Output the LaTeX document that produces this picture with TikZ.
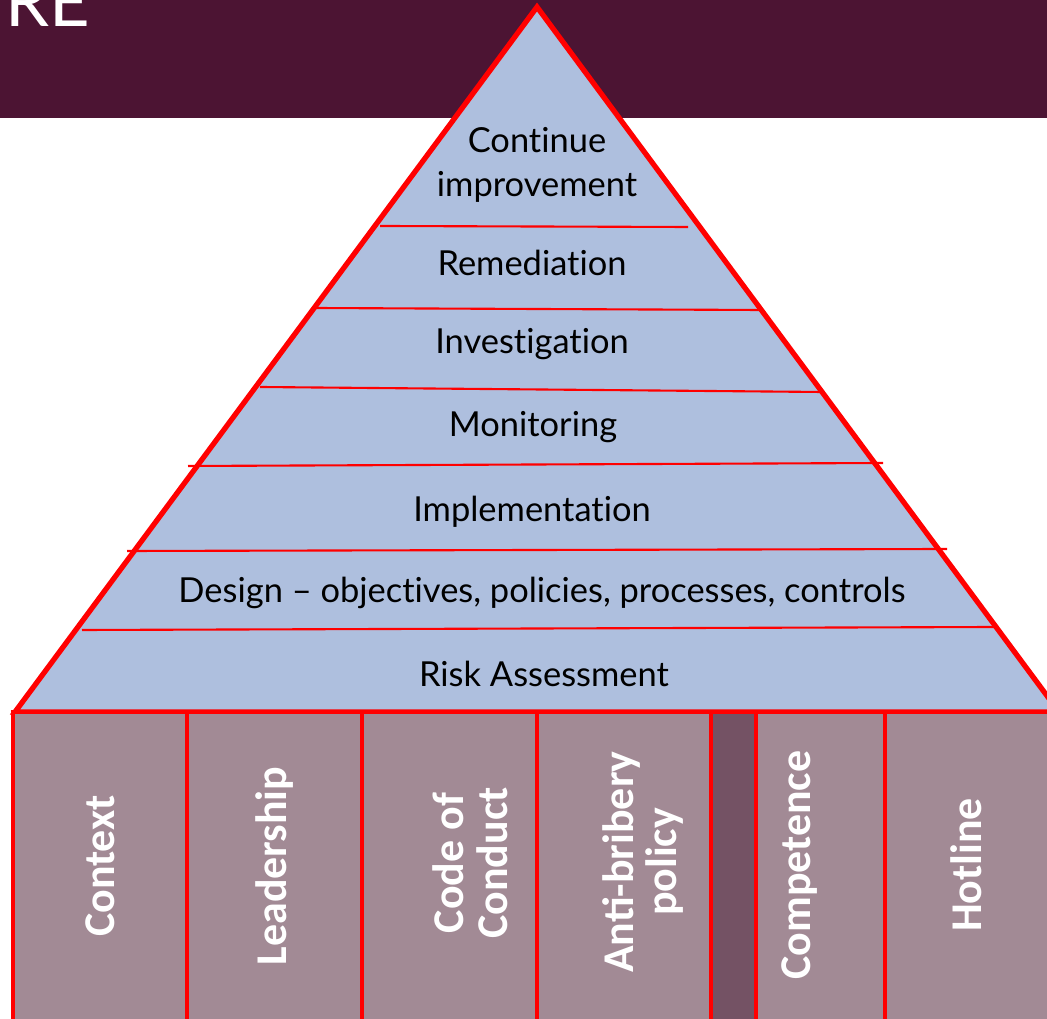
\documentclass[tikz,border=0pt]{standalone}
\usepackage{fontspec}
\setmainfont{Lato}[Ligatures=NoCommon]
\newfontfamily\pillarfont{Carlito}
\usepackage{tikz}
\usetikzlibrary{positioning}
\definecolor{banner}{RGB}{76,20,51}
\definecolor{pyrfill}{RGB}{174,191,222}
\definecolor{pillarfill}{RGB}{162,138,149}
\definecolor{darkstrip}{RGB}{116,82,100}
\definecolor{darkred}{RGB}{160,16,28}

\begin{document}
\begin{tikzpicture}[x=0.1mm,y=-0.1mm]
\tikzstyle{layer} = [anchor=base,inner sep=0,font=\fontsize{9.8}{12.5}\selectfont];
\tikzstyle{divider} = [draw=red,line width=0.6pt];
\tikzstyle{pillar} = [draw=red,line width=1.2pt,fill=pillarfill];
\tikzstyle{pillartext} = [rotate=90,text=white,align=center,font=\pillarfont\bfseries\fontsize{12.5}{12.5}\selectfont];

\useasboundingbox (0,0) rectangle (1047,1019);
\fill[banner] (0,0) rectangle (1047,118);
\node[anchor=base west,inner sep=0,text=white,font=\fontsize{20}{20}\selectfont] (title) at (5,27) {RE};

% pyramid
\coordinate (apex) at (537,7);
\coordinate (bl) at (15,712);
\coordinate (br) at (1059,712);
\draw[red,line width=1.5pt,fill=pyrfill] (bl) -- (apex) -- (br) -- cycle;

\draw[divider] (380,226) -- (688,227);
\draw[divider] (313,308) -- (760,310);
\draw[divider] (260,387) -- (822,392);
\draw[divider] (188,466) -- (883,463);
\draw[divider] (127,551) -- (947,549);
\draw[divider] (82,630) -- (995,627);

\node[layer] (ci1) at (537,153) {Continue};
\node[layer] (ci2) at (537,197) {improvement};
\node[layer] (rem) at (532,276) {Remediation};
\node[layer] (inv) at (532,354) {Investigation};
\node[layer] (mon) at (533,437) {Monitoring};
\node[layer] (imp) at (532,522) {Implementation};
\node[layer] (des) at (542,603) {Design -- objectives, policies, processes, controls};
\node[layer] (risk) at (544,687) {Risk Assessment};

% pillars
\draw[pillar] (13,712) rectangle (187,1030);
\draw[pillar] (187,712) rectangle (362,1030);
\draw[pillar] (362,712) rectangle (537,1030);
\draw[pillar] (537,712) rectangle (711,1030);
\draw[pillar,fill=darkstrip] (711,712) rectangle (756,1030);
\draw[darkred,line width=1.2pt] (756,716) -- (756,1030);
\draw[pillar] (756,712) rectangle (885,1030);
\draw[pillar] (885,712) rectangle (1060,1030);

\node[pillartext] (ctx) at (100,866) {Context};
\node[pillartext] (lead) at (275,866) {Leadership};
\node[pillartext] (coc) at (470,863) {Code of\\Conduct};
\node[pillartext] (abp) at (643,862) {Anti-bribery\\policy};
\node[pillartext] (comp) at (800,865) {Competence};
\node[pillartext] (hot) at (966,865) {Hotline};
\end{tikzpicture}
\end{document}
